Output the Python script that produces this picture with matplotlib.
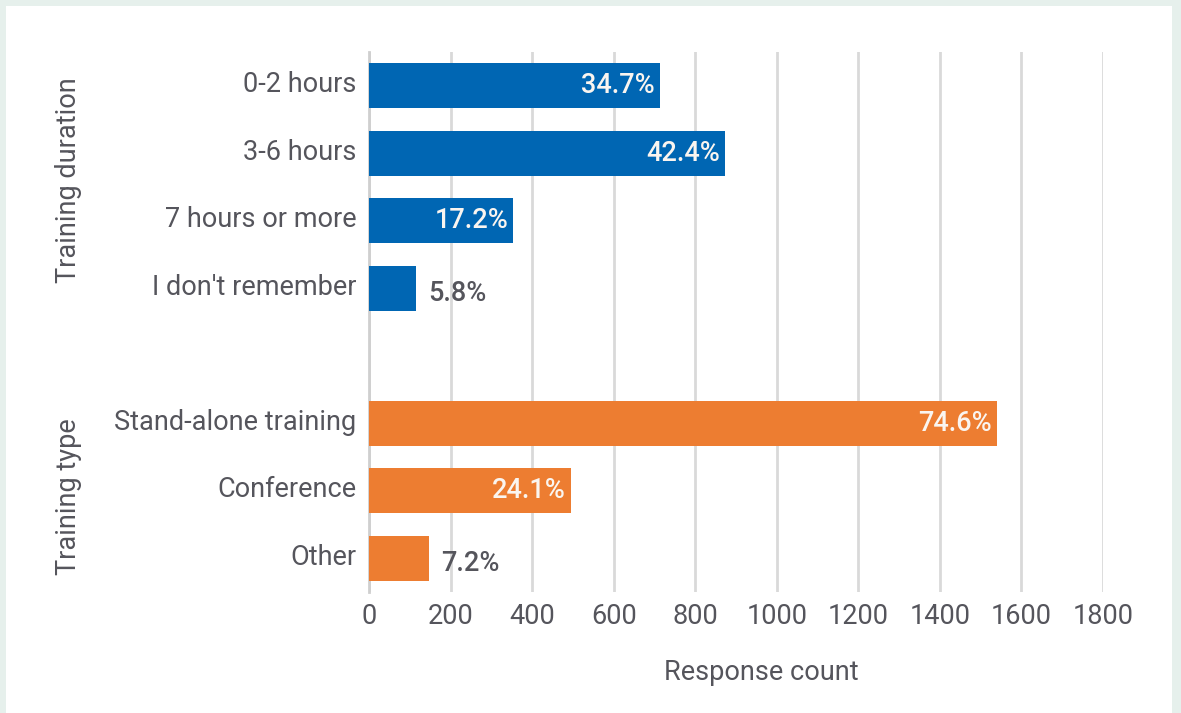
import matplotlib
matplotlib.use('Agg')
import matplotlib.pyplot as plt
import matplotlib.transforms as mtransforms
from matplotlib import font_manager
from matplotlib.patches import Rectangle

# data
duration_labels = ["0-2 hours", "3-6 hours", "7 hours or more", "I don't remember"]
duration_counts = [713, 872, 353, 115]
duration_pct = ["34.7%", "42.4%", "17.2%", "5.8%"]

type_labels = ["Stand-alone training", "Conference", "Other"]
type_counts = [1539, 495, 147]
type_pct = ["74.6%", "24.1%", "7.2%"]

x_ticks = [0, 200, 400, 600, 800, 1000, 1200, 1400, 1600, 1800]

BLUE = '#0066B3'
ORANGE = '#ED7D31'
TEXT = '#55555C'
GRID = '#D9D9D9'

names = {f.name for f in font_manager.fontManager.ttflist}
fam = 'Liberation Sans Narrow' if 'Liberation Sans Narrow' in names else 'Roboto'
plt.rcParams['font.family'] = [fam, 'DejaVu Sans']

W, H = 1181, 713
fig = plt.figure(figsize=(W / 100, H / 100), dpi=100, facecolor='#E6F0EC')
fig.patches.append(Rectangle((6 / W, 0), (1172 - 6) / W, 1 - 6 / H,
                             transform=fig.transFigure, facecolor='white',
                             edgecolor='none', zorder=-10))

left, right, top, bottom = 369, 1103, 52, 592
ax = fig.add_axes([left / W, 1 - bottom / H, (right - left) / W, (bottom - top) / H])
ax.set_facecolor('none')
ax.set_zorder(1)

# slots: 0-3 duration, 4 empty, 5-7 type
dur_pos = list(range(len(duration_labels)))
type_pos = [p + len(duration_labels) + 1 for p in range(len(type_labels))]

bh = 0.67
ax.barh(dur_pos, duration_counts, height=bh, color=BLUE, zorder=3)
ax.barh(type_pos, type_counts, height=bh, color=ORANGE, zorder=3)

fs = 19.5
for pos, val, pct in list(zip(dur_pos, duration_counts, duration_pct)) + \
        list(zip(type_pos, type_counts, type_pct)):
    if val > 300:
        ax.text(val - 12, pos, pct, ha='right', va='center', color='#FAF5F0',
                fontsize=fs, fontweight='medium', zorder=4)
    else:
        ax.text(val + 30, pos + 0.08, pct, ha='left', va='center', color=TEXT,
                fontsize=fs, fontweight='medium', zorder=4)

ax.set_xlim(0, 1800)
ax.set_ylim(len(dur_pos) + len(type_pos) + 0.5, -0.5)
ax.set_xticks(x_ticks)
ax.set_xticklabels([str(t) for t in x_ticks])
ax.set_yticks(dur_pos + type_pos)
ax.set_yticklabels(duration_labels + type_labels)
ax.tick_params(axis='both', length=0, labelsize=fs, labelcolor=TEXT)
ax.tick_params(axis='y', pad=9)
ax.tick_params(axis='x', pad=8)
shift = mtransforms.ScaledTranslation(0, 4 / 100, fig.dpi_scale_trans)
for lbl in ax.get_yticklabels():
    lbl.set_transform(lbl.get_transform() + shift)

ax.grid(axis='x', color=GRID, linewidth=2, zorder=0)
for s in ['top', 'right', 'bottom']:
    ax.spines[s].set_visible(False)
ax.spines['left'].set_color('#CFCFCF')
ax.spines['left'].set_linewidth(2)

ax.set_xlabel("Response count", fontsize=fs, color=TEXT)
ax.xaxis.set_label_coords((761 - left) / (right - left), -(672 - bottom) / (bottom - top))
ax.xaxis.label.set_verticalalignment('center')

fig.text(68 / W, 1 - 180 / H, "Training duration", rotation=90, ha='center',
         va='center', fontsize=fs, color=TEXT)
fig.text(68 / W, 1 - 497 / H, "Training type", rotation=90, ha='center',
         va='center', fontsize=fs, color=TEXT)

fig.savefig('out.png', dpi=100, facecolor=fig.get_facecolor())
